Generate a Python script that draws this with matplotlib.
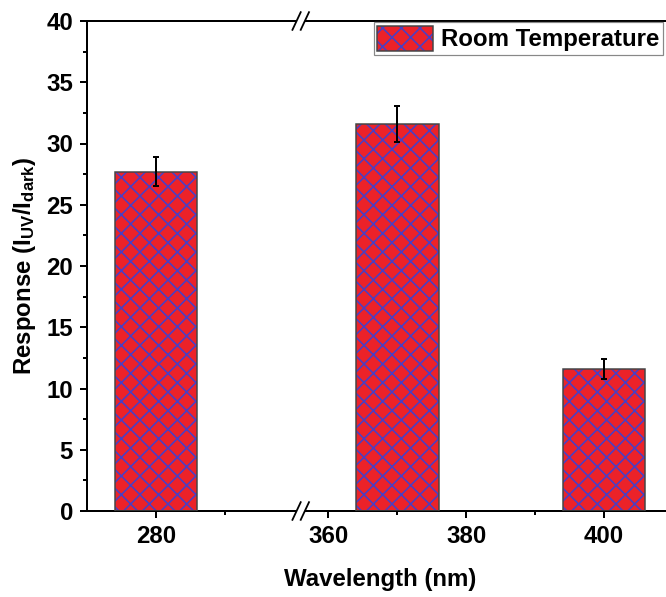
import numpy as np
import matplotlib.pyplot as plt
from matplotlib.legend_handler import HandlerTuple

# data
wavelength = [280, 370, 400]
response = [27.7, 31.6, 11.6]
err = [1.2, 1.5, 0.8]
xticks = [280, 360, 380, 400]
xminor = [290, 370, 390]

# broken x axis: 301..356 is cut out
brk_lo, brk_hi = 301, 356
gap = brk_hi - brk_lo


def fwd(x):
    x = np.asarray(x, dtype=float)
    return np.where(x <= brk_lo, x, np.where(x >= brk_hi, x - gap, brk_lo))


def inv(u):
    u = np.asarray(u, dtype=float)
    return np.where(u <= brk_lo, u, u + gap)


def near_break(d):
    # d is an offset in data units around the break (left side <0, right side >0)
    return brk_lo + d if d <= 0 else brk_hi + d


DPI = 56
def pt(px):
    return px * 72 / DPI


plt.rcParams['font.family'] = ['Liberation Sans', 'DejaVu Sans']
plt.rcParams['font.weight'] = 'bold'
plt.rcParams['mathtext.fontset'] = 'custom'
plt.rcParams['mathtext.rm'] = 'Liberation Sans:bold'
plt.rcParams['mathtext.it'] = 'Liberation Sans:bold'
plt.rcParams['mathtext.bf'] = 'Liberation Sans:bold'
plt.rcParams['hatch.linewidth'] = pt(1.6)

fig = plt.figure(figsize=(666 / DPI, 597 / DPI), dpi=DPI)
ax = fig.add_axes([87 / 666, 86 / 597, 586 / 666, 490 / 597])
ax.set_xscale('function', functions=(fwd, inv))

red = '#ec2229'
blue = '#4a3fc4'
fill = ax.bar(wavelength, response, width=12, color=red, edgecolor=blue,
              linewidth=0, hatch='x', zorder=2)
edge = ax.bar(wavelength, response, width=12, facecolor='none',
              edgecolor='#444444', linewidth=pt(1.5), zorder=3)
ax.errorbar(wavelength, response, yerr=err, fmt='none', ecolor='black',
            elinewidth=pt(2), capsize=pt(3), capthick=pt(2), zorder=4)

ax.set_xlim(270, 410)
ax.set_ylim(0, 40)
ax.set_xticks(xticks)
ax.set_xticks(xminor, minor=True)
ax.set_yticks(np.arange(0, 41, 5))
ax.set_yticks(np.arange(0, 40, 2.5), minor=True)
ax.tick_params(axis='both', which='major', length=pt(7), width=pt(2),
               labelsize=pt(24), pad=pt(7), direction='out')
ax.tick_params(axis='both', which='minor', length=pt(4), width=pt(2), direction='out')
ax.tick_params(top=False, right=False, which='both')
for s in ax.spines.values():
    s.set_linewidth(pt(2))

ax.set_xlabel('Wavelength (nm)', fontsize=pt(24), fontweight='bold', labelpad=pt(20))
ax.set_ylabel('Response (I$_{UV}$/I$_{dark}$)', fontsize=pt(24),
              fontweight='bold', labelpad=pt(8))

# break marks "//" on the top and bottom spines
trans = ax.get_xaxis_transform()
for y in (0, 1):
    ax.plot([near_break(-0.6), near_break(0.6)], [y, y], color='white', lw=pt(4),
            transform=trans, clip_on=False, zorder=5, solid_capstyle='butt')
    for off in (-0.6, 0.6):
        xs = [near_break(off - 0.6), near_break(off + 0.6)] if off > 0 else \
             [near_break(off - 0.6), near_break(off + 0.6 if off + 0.6 <= 0 else off + 0.6)]
        ax.plot(xs, [y - 0.018, y + 0.018],
                color='black', lw=pt(1.8), transform=trans, clip_on=False, zorder=6)

leg = ax.legend([(fill[0], edge[0])], ['Room Temperature'],
                handler_map={tuple: HandlerTuple(ndivide=1)},
                loc='upper right', bbox_to_anchor=(0.983, 0.997),
                fontsize=pt(24), handlelength=2.3, handleheight=1.2,
                handletextpad=0.35, borderpad=0.15, borderaxespad=0,
                fancybox=False, framealpha=1, edgecolor='#888888')
leg.get_frame().set_linewidth(pt(1.2))

fig.savefig('out.png', dpi=DPI)
